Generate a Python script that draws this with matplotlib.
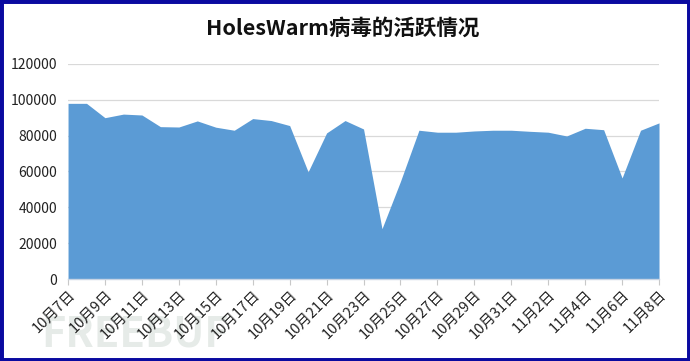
import matplotlib
matplotlib.use('Agg')
import matplotlib.pyplot as plt
from matplotlib.patches import Rectangle

plt.rcParams['font.family'] = ['Noto Sans CJK SC', 'DejaVu Sans']

# 10月7日 -> 11月8日, one value per day
days = ['10月%d日' % d for d in range(7, 32)] + ['11月%d日' % d for d in range(1, 9)]
active = [98000, 98000, 90000, 92000, 91500, 85000, 84800, 88200, 84700, 83000,
          89500, 88400, 85600, 59800, 81500, 88400, 83700, 28100, 54500, 83000,
          81900, 81900, 82600, 83000, 83000, 82400, 81900, 79800, 84100, 83300,
          56400, 83000, 87100]
yticks = [0, 20000, 40000, 60000, 80000, 100000, 120000]

fig = plt.figure(figsize=(6.9, 3.61), dpi=100)
ax = fig.add_axes([0.0986, 0.227, 0.8565, 0.596])

x = list(range(len(days)))
ax.fill_between(x, active, 0, color='#5B9BD5', linewidth=0)
ax.set_xlim(0, len(days) - 1)
ax.set_ylim(0, 120000)

ax.set_yticks(yticks)
ax.set_yticklabels([str(v) for v in yticks], fontsize=10, color='#222222')
ax.yaxis.grid(True, color='#d9d9d9', linewidth=0.9)
ax.set_axisbelow(True)

ax.set_xticks(x[::2])
ax.set_xticklabels(days[::2], rotation=45, ha='right', rotation_mode='anchor',
                   fontsize=10.5, color='#222222')
ax.tick_params(axis='x', length=4, color='#c8c8c8', pad=2)
ax.tick_params(axis='y', length=0, pad=8)

for s in ['top', 'right', 'left']:
    ax.spines[s].set_visible(False)
ax.spines['bottom'].set_color('#c8d4e4')
ax.spines['bottom'].set_linewidth(1.0)

fig.text(0.496, 0.922, 'HolesWarm病毒的活跃情况', ha='center', va='center',
         fontsize=15.5, fontweight='bold', color='#111111')

# watermark, behind the tick labels
fig.text(0.06, 0.04, 'FREEBUF', fontsize=30, fontweight='bold',
         color='#e6ebe8', zorder=-1)

# dark blue frame
fig.patches.append(Rectangle((0, 0), 1, 1, transform=fig.transFigure,
                             fill=False, edgecolor='#0a0aa0', linewidth=5))

fig.savefig('out.png', dpi=100)
